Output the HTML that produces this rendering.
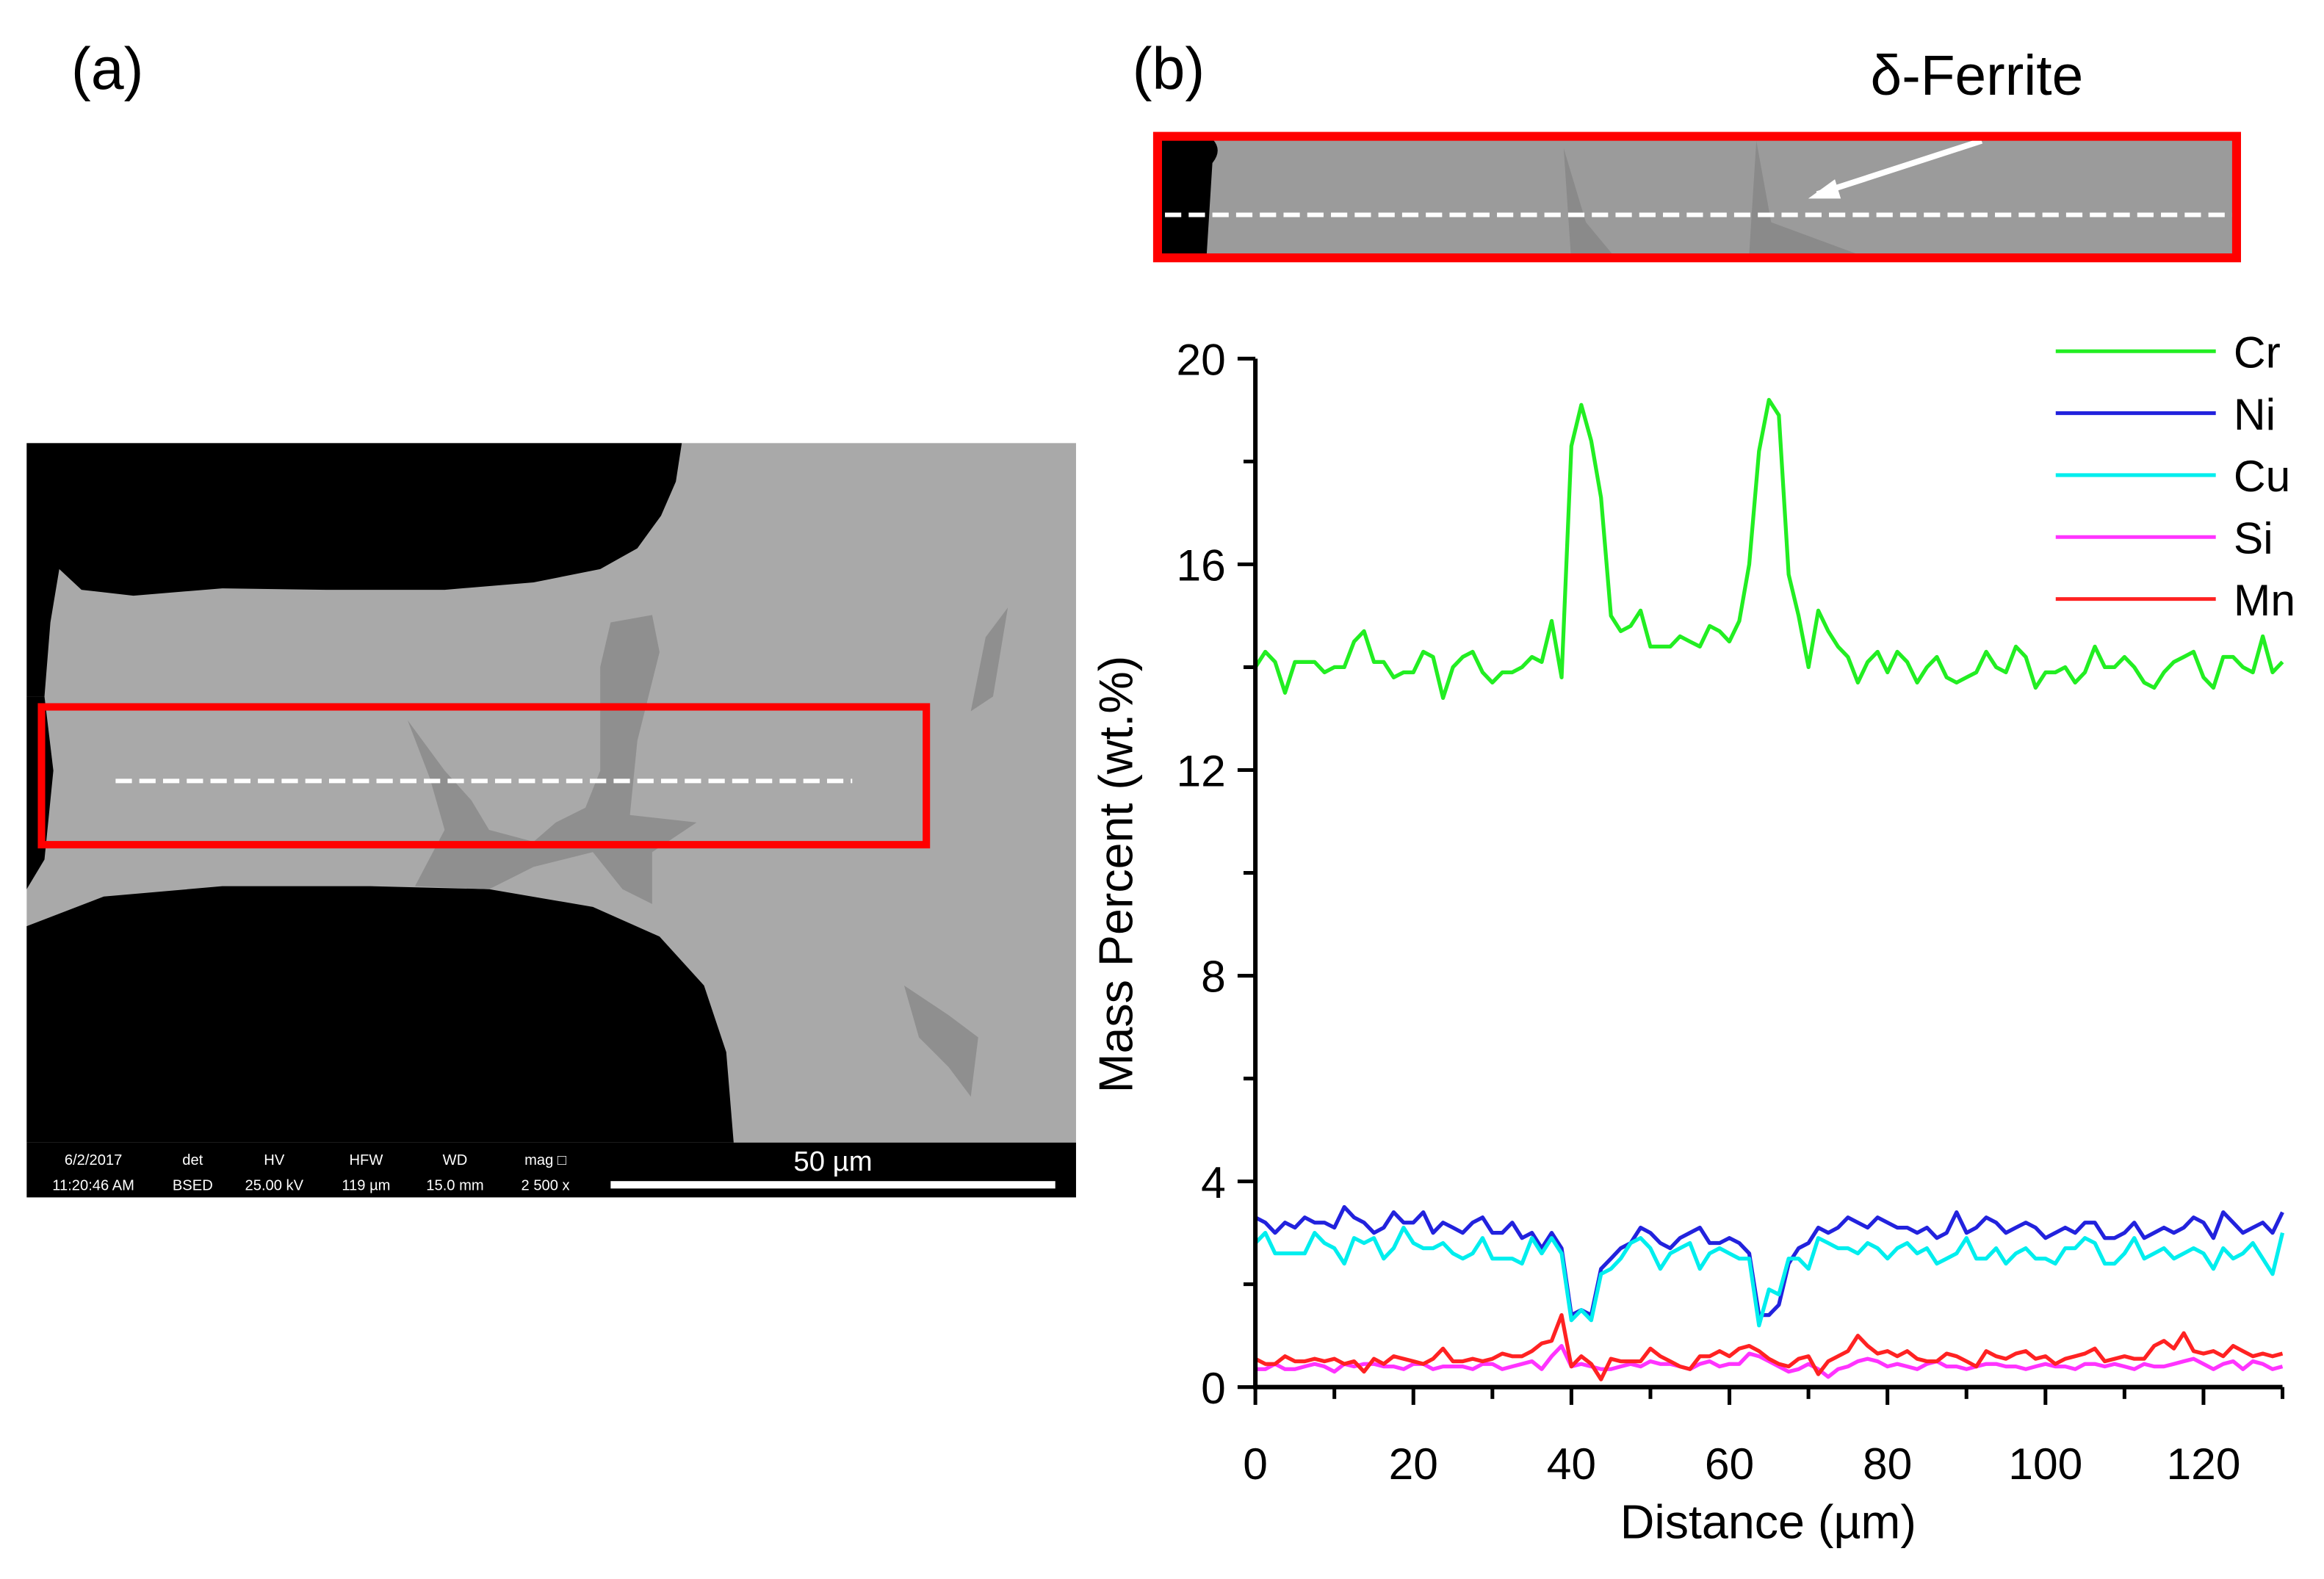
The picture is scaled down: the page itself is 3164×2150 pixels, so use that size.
<!DOCTYPE html>
<html><head><meta charset="utf-8"><style>
html,body{margin:0;padding:0;background:#fff;}
svg{display:block;font-family:"Liberation Sans",sans-serif;}
</style></head><body>
<svg id="fig" width="3164" height="2150" viewBox="0 0 1568 1065.5" preserveAspectRatio="none">
<text x="48" y="60" font-size="40">(a)</text>
<text x="764" y="60" font-size="40">(b)</text>
<text x="1262" y="64" font-size="38">δ-Ferrite</text>

<g>
<rect x="18" y="299" width="708" height="472" fill="#a9a9a9"/>
<path d="M18,299 L460,299 L456,325 L446,348 L430,370 L405,384 L360,393 L300,398 L220,398 L150,397 L90,402 L55,398 L40,384 L34,420 L30,470 L18,470 Z" fill="#000"/>
<path d="M18,470 L30,470 L36,520 L30,580 L18,600 Z" fill="#000"/>
<path d="M18,625 L70,605 L150,598 L250,598 L330,600 L400,612 L445,632 L475,665 L490,710 L495,771 L18,771 Z" fill="#000"/>
<path d="M275,486 L300,520 L318,540 L330,560 L360,568 L375,555 L395,545 L405,520 L405,450 L412,420 L440,415 L445,440 L430,500 L425,550 L470,555 L440,575 L440,610 L420,600 L400,575 L360,585 L330,600 L280,598 L300,560 L290,525 Z" fill="#8f8f8f"/>
<path d="M680,410 L670,470 L655,480 L665,430 Z" fill="#8f8f8f"/>
<path d="M610,665 L640,685 L660,700 L655,740 L640,720 L620,700 Z" fill="#8f8f8f"/>
<rect x="18" y="771" width="708" height="37" fill="#000"/>
<g fill="#fff" font-size="10" text-anchor="middle">
<text x="63" y="786">6/2/2017</text><text x="63" y="803">11:20:46 AM</text>
<text x="130" y="786">det</text><text x="130" y="803">BSED</text>
<text x="185" y="786">HV</text><text x="185" y="803">25.00 kV</text>
<text x="247" y="786">HFW</text><text x="247" y="803">119 µm</text>
<text x="307" y="786">WD</text><text x="307" y="803">15.0 mm</text>
<text x="368" y="786">mag □</text><text x="368" y="803">2 500 x</text>
</g>
<text x="562" y="790" fill="#fff" font-size="19" text-anchor="middle">50 µm</text>
<rect x="412" y="797" width="300" height="5" fill="#fff"/>
<rect x="28" y="477" width="597" height="93" fill="none" stroke="#f00" stroke-width="5"/>
<line x1="78" y1="527" x2="575" y2="527" stroke="#fff" stroke-width="3" stroke-dasharray="11,5"/>
</g>

<g>
<rect x="781" y="92" width="728" height="82" fill="#9b9b9b"/>
<path d="M781,92 L816,92 Q826,100 818,110 L814,174 L781,174 Z" fill="#000"/>
<path d="M1055,100 L1070,150 L1090,174 L1060,174 Z" fill="#8a8a8a"/>
<path d="M1185,95 L1195,150 L1260,174 L1180,174 Z" fill="#8a8a8a"/>
<line x1="1337" y1="95" x2="1226" y2="131" stroke="#fff" stroke-width="4"/>
<path d="M1220,134 L1238,121 L1242,134 Z" fill="#fff"/>
<line x1="786" y1="145" x2="1507" y2="145" stroke="#fff" stroke-width="3" stroke-dasharray="11,5"/>
<rect x="781" y="92" width="728" height="82" fill="none" stroke="#f00" stroke-width="6"/>
</g>

<g id="chart"></g>
</svg>
<script>
const xStep = 1.25;
const ticksX = [0,20,40,60,80,100,120];
const ticksY = [0,4,8,12,16,20];
const seriesNames = ["Cr","Ni","Cu","Si","Mn"];
const seriesColors = ["#22ee22","#2222dd","#00eeee","#ff33ff","#ff2222"];
const cr = [14.0,14.3,14.1,13.5,14.1,14.1,14.1,13.9,14.0,14.0,14.5,14.7,14.1,14.1,13.8,13.9,13.9,14.3,14.2,13.4,14.0,14.2,14.3,13.9,13.7,13.9,13.9,14.0,14.2,14.1,14.9,13.8,18.3,19.1,18.4,17.3,15.0,14.7,14.8,15.1,14.4,14.4,14.4,14.6,14.5,14.4,14.8,14.7,14.5,14.9,16.0,18.2,19.2,18.9,15.8,15.0,14.0,15.1,14.7,14.4,14.2,13.7,14.1,14.3,13.9,14.3,14.1,13.7,14.0,14.2,13.8,13.7,13.8,13.9,14.3,14.0,13.9,14.4,14.2,13.6,13.9,13.9,14.0,13.7,13.9,14.4,14.0,14.0,14.2,14.0,13.7,13.6,13.9,14.1,14.2,14.3,13.8,13.6,14.2,14.2,14.0,13.9,14.6,13.9,14.1];
const ni = [3.3,3.2,3.0,3.2,3.1,3.3,3.2,3.2,3.1,3.5,3.3,3.2,3.0,3.1,3.4,3.2,3.2,3.4,3.0,3.2,3.1,3.0,3.2,3.3,3.0,3.0,3.2,2.9,3.0,2.7,3.0,2.7,1.4,1.5,1.4,2.3,2.5,2.7,2.8,3.1,3.0,2.8,2.7,2.9,3.0,3.1,2.8,2.8,2.9,2.8,2.6,1.4,1.4,1.6,2.4,2.7,2.8,3.1,3.0,3.1,3.3,3.2,3.1,3.3,3.2,3.1,3.1,3.0,3.1,2.9,3.0,3.4,3.0,3.1,3.3,3.2,3.0,3.1,3.2,3.1,2.9,3.0,3.1,3.0,3.2,3.2,2.9,2.9,3.0,3.2,2.9,3.0,3.1,3.0,3.1,3.3,3.2,2.9,3.4,3.2,3.0,3.1,3.2,3.0,3.4];
const cu = [2.8,3.0,2.6,2.6,2.6,2.6,3.0,2.8,2.7,2.4,2.9,2.8,2.9,2.5,2.7,3.1,2.8,2.7,2.7,2.8,2.6,2.5,2.6,2.9,2.5,2.5,2.5,2.4,2.9,2.6,2.9,2.6,1.3,1.5,1.3,2.2,2.3,2.5,2.8,2.9,2.7,2.3,2.6,2.7,2.8,2.3,2.6,2.7,2.6,2.5,2.5,1.2,1.9,1.8,2.5,2.5,2.3,2.9,2.8,2.7,2.7,2.6,2.8,2.7,2.5,2.7,2.8,2.6,2.7,2.4,2.5,2.6,2.9,2.5,2.5,2.7,2.4,2.6,2.7,2.5,2.5,2.4,2.7,2.7,2.9,2.8,2.4,2.4,2.6,2.9,2.5,2.6,2.7,2.5,2.6,2.7,2.6,2.3,2.7,2.5,2.6,2.8,2.5,2.2,3.0];
const si = [0.35,0.35,0.45,0.35,0.35,0.4,0.45,0.4,0.3,0.45,0.4,0.45,0.45,0.4,0.4,0.35,0.45,0.45,0.35,0.4,0.4,0.4,0.35,0.45,0.45,0.35,0.4,0.45,0.5,0.35,0.6,0.8,0.4,0.45,0.4,0.35,0.35,0.4,0.45,0.4,0.5,0.45,0.45,0.4,0.35,0.45,0.5,0.4,0.45,0.45,0.65,0.6,0.5,0.4,0.3,0.35,0.45,0.35,0.2,0.35,0.4,0.5,0.55,0.5,0.4,0.45,0.4,0.35,0.45,0.5,0.4,0.4,0.35,0.4,0.45,0.45,0.4,0.4,0.35,0.4,0.45,0.4,0.4,0.35,0.45,0.45,0.4,0.45,0.4,0.35,0.45,0.4,0.4,0.45,0.5,0.55,0.45,0.35,0.45,0.5,0.35,0.5,0.45,0.35,0.4];
const mn = [0.55,0.45,0.45,0.6,0.5,0.5,0.55,0.5,0.55,0.45,0.5,0.3,0.55,0.45,0.6,0.55,0.5,0.45,0.55,0.75,0.5,0.5,0.55,0.5,0.55,0.65,0.6,0.6,0.7,0.85,0.9,1.4,0.4,0.6,0.45,0.15,0.55,0.5,0.5,0.5,0.75,0.6,0.5,0.4,0.35,0.6,0.6,0.7,0.6,0.75,0.8,0.7,0.55,0.45,0.4,0.55,0.6,0.25,0.5,0.6,0.7,1.0,0.8,0.65,0.7,0.6,0.7,0.55,0.5,0.5,0.65,0.6,0.5,0.4,0.7,0.6,0.55,0.65,0.7,0.55,0.6,0.45,0.55,0.6,0.65,0.75,0.5,0.55,0.6,0.55,0.55,0.8,0.9,0.75,1.05,0.7,0.65,0.7,0.6,0.8,0.7,0.6,0.65,0.6,0.65];
const seriesData = [cr, ni, cu, si, mn];

const NS = "http://www.w3.org/2000/svg";
const g = document.getElementById("chart");
const X0 = 847, X1 = 1540, Y0 = 936, Y1 = 242;
const xScale = v => X0 + (v / 130) * (X1 - X0);
const yScale = v => Y0 - (v / 20) * (Y0 - Y1);
function mk(tag, attrs, parent) {
  const e = document.createElementNS(NS, tag);
  for (const k in attrs) e.setAttribute(k, attrs[k]);
  (parent || g).appendChild(e);
  return e;
}
seriesData.forEach((arr, si_) => {
  const pts = arr.map((v, i) => xScale(i * xStep).toFixed(1) + "," + yScale(v).toFixed(1)).join(" ");
  const pl = mk("polyline", {points: pts, fill: "none", stroke: seriesColors[si_], "stroke-width": 2.6, "stroke-linejoin": "round"});
  
  
});
const ax = mk("path", {d: `M${X0},${Y1} L${X0},${Y0} L${X1},${Y0}`, fill: "none", stroke: "#000", "stroke-width": 3});


for (let v = 0; v <= 130; v += 10) {
  const major = v % 20 === 0;
  mk("line", {x1: xScale(v), x2: xScale(v), y1: Y0, y2: Y0 + (major ? 12 : 8), stroke: "#000", "stroke-width": 2.5});
}
ticksX.forEach(v => {
  const t = mk("text", {x: xScale(v), y: Y0 + 62, "font-size": 30, "text-anchor": "middle"});
  t.textContent = v;
  
  
});
for (let v = 0; v <= 20; v += 2) {
  const major = v % 4 === 0;
  mk("line", {x1: X0 - (major ? 12 : 8), x2: X0, y1: yScale(v), y2: yScale(v), stroke: "#000", "stroke-width": 2.5});
}
ticksY.forEach(v => {
  const t = mk("text", {x: X0 - 20, y: yScale(v) + 11, "font-size": 30, "text-anchor": "end"});
  t.textContent = v;
  
  
});
const xt = mk("text", {x: 1193, y: 1038, "font-size": 32, "text-anchor": "middle"});
xt.textContent = "Distance (µm)";


const yt = mk("text", {x: 0, y: 0, "font-size": 32, "text-anchor": "middle", transform: "translate(764,590) rotate(-90)"});
yt.textContent = "Mass Percent (wt.%)";


seriesNames.forEach((n, i) => {
  const y = 237 + i * 41.8;
  const l = mk("line", {x1: 1387, x2: 1495, y1: y, y2: y, stroke: seriesColors[i], "stroke-width": 2.5});
  
  
  const t = mk("text", {x: 1507, y: y + 11, "font-size": 30});
  t.textContent = n;
  
  
});
</script>
</body></html>
